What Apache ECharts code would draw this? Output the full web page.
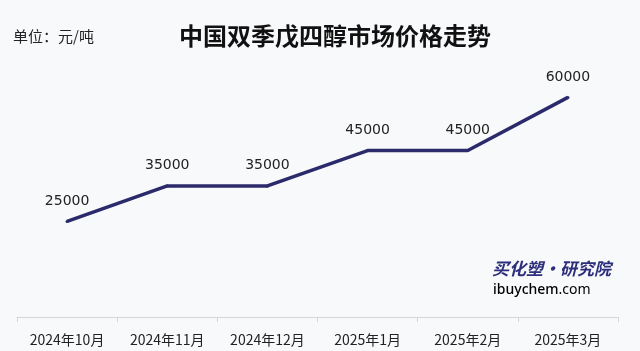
<!DOCTYPE html>
<html>
<head>
<meta charset="utf-8">
<script src="https://cdn.jsdelivr.net/npm/echarts@6/dist/echarts.min.js"></script>
<style>
html,body{margin:0;padding:0;background:#f8f9fb;}
#chart{width:640px;height:351px;}
</style>
</head>
<body>
<div id="chart"></div>
<script>
var categories = ['2024年10月','2024年11月','2024年12月','2025年1月','2025年2月','2025年3月'];
var prices = [25000, 35000, 35000, 45000, 45000, 60000];
var titleText = '中国双季戊四醇市场价格走势';
var unitText = '单位：元/吨';

var chart = echarts.init(document.getElementById('chart'));
chart.setOption({
  backgroundColor: '#f8f9fb',
  animation: false,
  title: {
    text: titleText,
    left: 330, top: 19, textAlign: 'center',
    textStyle: {fontFamily: 'Noto Sans CJK SC', fontSize: 24, fontWeight: 'bold', color: '#111'}
  },
  graphic: [
    {type: 'text', left: 13, top: 29, style: {text: unitText, font: '15px "Noto Sans CJK SC"', fill: '#222'}},
    {type: 'text', left: 492, top: 260, style: {text: '买化塑·研究院', font: 'italic bold 17px "Noto Sans CJK SC"', fill: '#2d2f7c'}},
    {type: 'text', left: 493, top: 283, style: {
      text: '{a|ibuychem}{b|.com}',
      rich: {
        a: {fontFamily: 'Noto Sans', fontSize: 14, fontWeight: 500, color: '#2d2f7c'},
        b: {fontFamily: 'Noto Sans', fontSize: 14, color: '#e6a27e'}
      }
    }}
  ],
  grid: {left: 17, right: 22, top: 62, bottom: 34},
  xAxis: {
    type: 'category',
    data: categories,
    boundaryGap: true,
    axisLine: {onZero: false, lineStyle: {color: '#d4d6da', width: 1}},
    axisTick: {show: true, length: 5, lineStyle: {color: '#d4d6da'}},
    axisLabel: {color: '#222', fontSize: 14, fontFamily: 'Noto Sans CJK SC', margin: 16, interval: 0}
  },
  yAxis: {
    type: 'value', min: -2000, max: 70000, show: false,
    splitLine: {show: false}
  },
  series: [{
    type: 'line',
    data: prices,
    symbol: 'circle',
    symbolSize: 3,
    showSymbol: true,
    itemStyle: {color: '#2b2a6b', borderWidth: 0},
    lineStyle: {color: '#2b2a6b', width: 3.5},
    label: {show: true, position: 'top', distance: 12, color: '#222', fontSize: 14, fontFamily: 'DejaVu Sans'}
  }]
});
</script>
</body>
</html>
